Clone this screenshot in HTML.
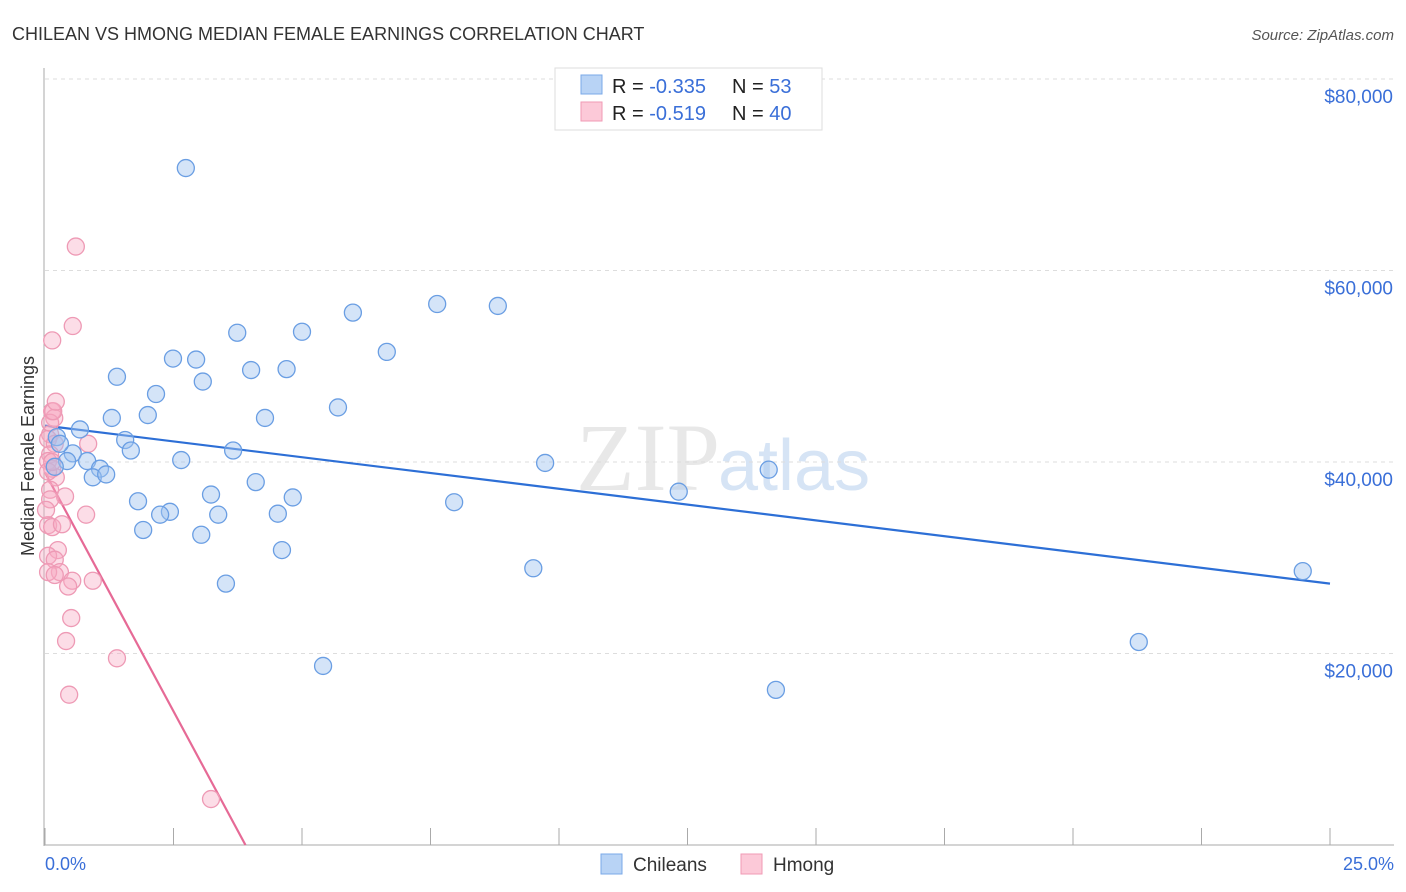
<!DOCTYPE html>
<html><head><meta charset="utf-8"><style>
body{margin:0;background:#fff;font-family:"Liberation Sans",sans-serif;}
svg{display:block}
</style></head><body>
<svg id="chart" width="1406" height="892" xmlns="http://www.w3.org/2000/svg">
<text x="12" y="40" font-size="18" fill="#333">CHILEAN VS HMONG MEDIAN FEMALE EARNINGS CORRELATION CHART</text>
<text x="1394" y="40" font-size="15" fill="#555" text-anchor="end" font-style="italic">Source: ZipAtlas.com</text>
<text x="720" y="490" font-size="96" fill="#e8e8e8" text-anchor="end" font-family="Liberation Serif">ZIP</text>
<text x="718" y="490" font-size="72" fill="#d6e4f5">atlas</text>
<g id="grid"></g><g id="axes"></g><g id="lines"></g><g id="points"></g>
<text transform="translate(34,456) rotate(-90)" font-size="18" fill="#333" text-anchor="middle">Median Female Earnings</text>
<text x="45" y="870" font-size="18" fill="#3a6fd8">0.0%</text>
<text x="1394" y="870" font-size="18" fill="#3a6fd8" text-anchor="end">25.0%</text>
<g>
<rect x="555" y="68" width="267" height="62" fill="#fff" stroke="#ddd"/>
<rect x="581" y="75" width="21" height="19" fill="#b8d3f5" stroke="#7aa8e8"/>
<rect x="581" y="102" width="21" height="19" fill="#fcc9d8" stroke="#f09ab5"/>
<text x="612" y="93" font-size="20" fill="#222">R = <tspan fill="#3a6fd8">-0.335</tspan></text>
<text x="732" y="93" font-size="20" fill="#222">N = <tspan fill="#3a6fd8"> 53</tspan></text>
<text x="612" y="120" font-size="20" fill="#222">R = <tspan fill="#3a6fd8"> -0.519</tspan></text>
<text x="732" y="120" font-size="20" fill="#222">N = <tspan fill="#3a6fd8">40</tspan></text>
</g>
<g>
<rect x="601" y="854" width="21" height="20" fill="#b8d3f5" stroke="#7aa8e8"/>
<text x="633" y="871" font-size="19" fill="#333">Chileans</text>
<rect x="741" y="854" width="21" height="20" fill="#fcc9d8" stroke="#f09ab5"/>
<text x="773" y="871" font-size="19" fill="#333">Hmong</text>
</g>
</svg>
<script>
const yTicks=[20000,40000,60000,80000];
const yTickLabels=["$20,000","$40,000","$60,000","$80,000"];
const xTicks=[0,2.5,5,7.5,10,12.5,15,17.5,20,22.5,25];
const chileX=[2.74,1.4,2.16,1.3,2.0,2.49,2.94,3.07,3.74,4.01,4.28,4.7,5.0,5.7,5.99,6.65,7.63,8.81,0.68,0.23,1.56,1.67,0.54,0.43,0.82,1.07,0.93,1.19,2.65,3.66,4.1,3.23,4.82,1.81,2.43,2.24,3.37,4.53,1.91,3.04,4.61,3.52,5.41,7.96,9.73,9.5,12.33,14.08,14.22,21.28,24.47,0.19,0.29];
const chileY=[70700,48900,47100,44600,44900,50800,50700,48400,53500,49600,44600,49700,53600,45700,55600,51500,56500,56300,43400,42600,42300,41200,40900,40100,40100,39300,38400,38700,40200,41200,37900,36600,36300,35900,34800,34500,34500,34600,32900,32400,30800,27300,18700,35800,39900,28900,36900,39200,16200,21200,28600,39500,41900];
const hmongX=[0.6,0.54,0.14,0.14,0.18,0.1,0.06,0.19,0.84,0.1,0.06,0.14,0.21,0.1,0.39,0.1,0.8,0.06,0.14,0.25,0.06,0.19,0.29,0.06,0.19,0.93,0.53,0.45,0.51,0.41,1.4,0.47,3.23,0.1,0.16,0.21,0.06,0.14,0.33,0.02];
const hmongY=[62500,54200,52700,45300,44600,42900,42400,41900,41900,40800,40100,39300,38400,37100,36400,36100,34500,33400,33200,30800,30200,29800,28500,28500,28200,27600,27600,27000,23700,21300,19500,15700,4800,44100,45300,46300,39000,40000,33500,35000];
const chileLine=[[0,43800],[25,27300]];
const hmongLine=[[0,38900],[3.9,0]];
const NS="http://www.w3.org/2000/svg";
const X0=45,X1=1330,Y0=845,PPY=191.5/20000;
function sx(v){return X0+v/25*(X1-X0);}
function sy(v){return Y0-v*PPY;}
function mk(tag,attrs,parent){const e=document.createElementNS(NS,tag);for(const k in attrs)e.setAttribute(k,attrs[k]);parent.appendChild(e);return e;}
const grid=document.getElementById('grid'),axes=document.getElementById('axes'),lines=document.getElementById('lines'),pts=document.getElementById('points');
yTicks.forEach((t,i)=>{
 const l=mk('line',{x1:45,x2:1394,y1:sy(t),y2:sy(t),stroke:'#ddd','stroke-dasharray':'4,4'},grid);
 
 
 const tx=mk('text',{x:1393,y:sy(t)+24,'font-size':19,fill:'#3a6fd8','text-anchor':'end'},axes);
 tx.textContent=yTickLabels[i];
 
 
});
const gl=mk('line',{x1:45,x2:1394,y1:79,y2:79,stroke:'#ddd','stroke-dasharray':'4,4'},grid);


const ya=mk('line',{x1:44,x2:44,y1:68,y2:846,stroke:'#aaa'},axes);


const xa=mk('line',{x1:44,x2:1394,y1:845,y2:845,stroke:'#aaa'},axes);


xTicks.forEach(t=>{
 const l=mk('line',{x1:sx(t),x2:sx(t),y1:828,y2:845,stroke:'#aaa'},axes);
 
 
});
function series(xs,ys,fill,stroke,name){
 xs.forEach((v,i)=>{
  const c=mk('circle',{cx:sx(v),cy:sy(ys[i]),r:8.5,fill:fill,stroke:stroke,'stroke-width':1.3},pts);
  
  
 });
}
series(hmongX,hmongY,'rgba(248,170,195,0.4)','#ee9ab5','hmong-point');
series(chileX,chileY,'rgba(160,196,240,0.45)','#6a9ee3','chilean-point');
const bl=mk('line',{x1:sx(chileLine[0][0]),y1:sy(chileLine[0][1]),x2:sx(chileLine[1][0]),y2:sy(chileLine[1][1]),stroke:'#2d6fd6','stroke-width':2.2},lines);


const pl=mk('line',{x1:sx(hmongLine[0][0]),y1:sy(hmongLine[0][1]),x2:sx(hmongLine[1][0]),y2:sy(hmongLine[1][1]),stroke:'#e66a96','stroke-width':2.2},lines);


</script>
</body></html>
